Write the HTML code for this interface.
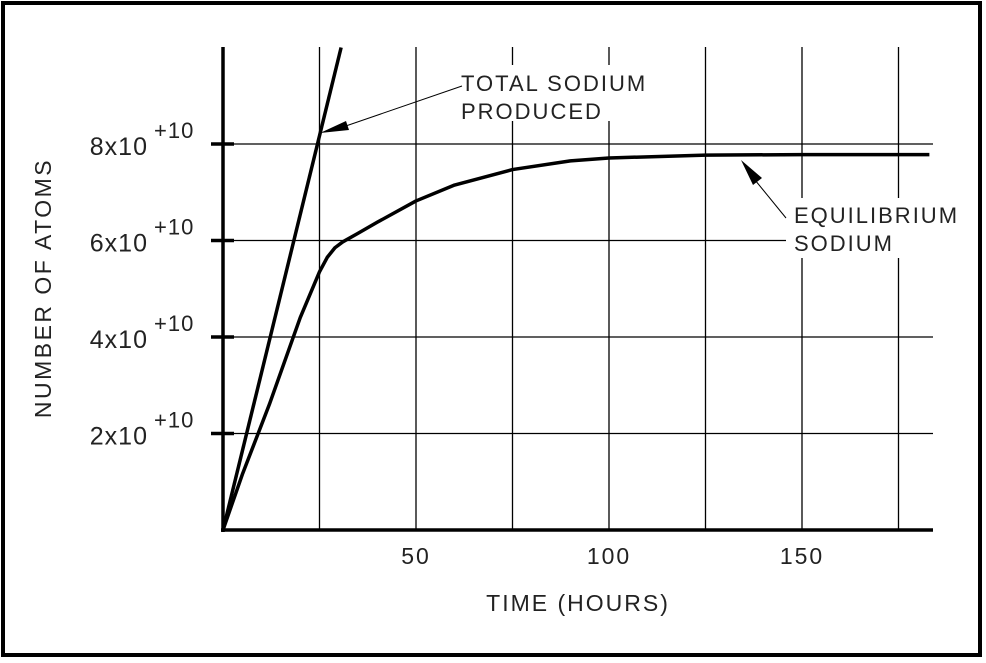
<!DOCTYPE html>
<html><head><meta charset="utf-8"><style>
html,body{margin:0;padding:0;background:#fff;}
svg{display:block;font-family:"Liberation Sans",sans-serif;}
</style></head><body>
<svg id="chart" width="986" height="663" viewBox="0 0 986 663">
<rect x="3" y="3" width="977" height="652" fill="#fff" stroke="#000" stroke-width="4"/>
<g id="grid"></g>
<g id="axes"></g>
<g id="series"></g>
<g id="labels"></g>
</svg>
<script>
const xTicks=[50,100,150];
const xGrid=[25,50,75,100,125,150,175];
const yTicks=[2,4,6,8];
const yTickLabels=["2x10","4x10","6x10","8x10"];
const totalT=[0,30.6];
const totalV=[0,10];
const eqT=[0,5,12,20,25,27,29,31,35,40,50,60,75,90,100,125,150,183];
const eqV=[0,1.15,2.6,4.4,5.35,5.65,5.85,5.97,6.15,6.38,6.82,7.15,7.47,7.65,7.71,7.77,7.78,7.78];
const X0=223,XS=3.86,Y0=530,YS=48.25;
const xs=t=>X0+t*XS, ys=v=>Y0-v*YS;
const NS="http://www.w3.org/2000/svg";
function mk(tag,parent,attrs){const e=document.createElementNS(NS,tag);for(const k in attrs)e.setAttribute(k,attrs[k]);document.getElementById(parent).appendChild(e);return e;}
xGrid.forEach(t=>{const e=mk('line','grid',{x1:xs(t),x2:xs(t),y1:47,y2:530,stroke:'#000','stroke-width':1.3});

});
yTicks.forEach((v,i)=>{const e=mk('line','grid',{x1:223,x2:933,y1:ys(v),y2:ys(v),stroke:'#000','stroke-width':1.3});


const t=mk('line','axes',{x1:211,x2:234,y1:ys(v),y2:ys(v),stroke:'#000','stroke-width':3.5});


const l=mk('text','labels',{x:148,y:ys(v)+11,'font-size':25,'text-anchor':'end',fill:'#222','letter-spacing':1});
l.textContent=yTickLabels[i];


const s=mk('text','labels',{x:154,y:ys(v)-6,'font-size':22,fill:'#222','letter-spacing':1});
s.textContent='+10';

});
xTicks.forEach(t=>{const l=mk('text','labels',{x:xs(t),y:564,'font-size':23,'text-anchor':'middle',fill:'#222','letter-spacing':2});
l.textContent=t;

});
let a=mk('line','axes',{x1:223,x2:223,y1:47,y2:532,stroke:'#000','stroke-width':3.5});


a=mk('line','axes',{x1:221,x2:933,y1:530,y2:530,stroke:'#000','stroke-width':3.5});


[[455,65,205,56],[786,198,170,60]].forEach(r=>{const e=mk('rect','labels',{x:r[0],y:r[1],width:r[2],height:r[3],fill:'#fff'});

});
function poly(T,V,name){const p=mk('polyline','series',{points:T.map((t,i)=>xs(t)+','+ys(V[i])).join(' '),fill:'none',stroke:'#000','stroke-width':3.5,'stroke-linejoin':'round'});

}
poly(totalT,totalV,'total-sodium-line');
poly(eqT,eqV,'equilibrium-sodium-curve');
function txt(x,y,s,name,fs,anchor){const e=mk('text','labels',{x:x,y:y,'font-size':fs||22,fill:'#222','letter-spacing':2,'text-anchor':anchor||'start'});e.textContent=s;

}
txt(461,91,'TOTAL SODIUM','total-sodium-label');
txt(461,119,'PRODUCED','total-sodium-label-2');
txt(794,223,'EQUILIBRIUM','equilibrium-label');
txt(794,251,'SODIUM','equilibrium-label-2');
txt(578,611,'TIME (HOURS)','x-axis-title',23,'middle');
const yt=mk('text','labels',{x:0,y:0,'font-size':23,fill:'#222','letter-spacing':2.5,'text-anchor':'middle',transform:'translate(51,288) rotate(-90)'});
yt.textContent='NUMBER OF ATOMS';


a=mk('line','labels',{x1:462,y1:86,x2:340,y2:128,stroke:'#000','stroke-width':1});


a=mk('polygon','labels',{points:'320,133 346,121 349,130',fill:'#000'});


a=mk('line','labels',{x1:786,y1:218,x2:755,y2:180,stroke:'#000','stroke-width':1});


a=mk('polygon','labels',{points:'741,160 762,178 753,185',fill:'#000'});


</script>
</body></html>
